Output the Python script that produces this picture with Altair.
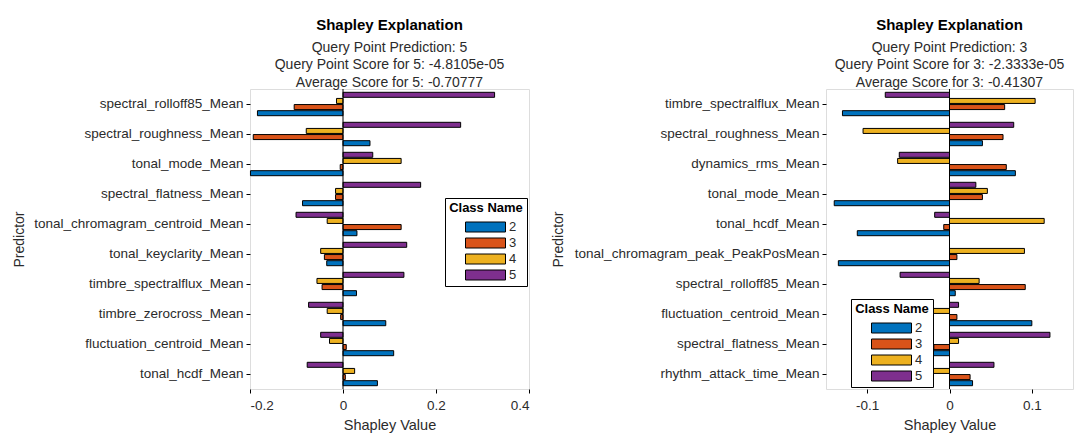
import altair as alt
import pandas as pd

classes = ["2", "3", "4", "5"]
class_colors = ["#0072BD", "#D95319", "#EDB120", "#7E2F8E"]

left_predictors = ["spectral_rolloff85_Mean", "spectral_roughness_Mean", "tonal_mode_Mean",
                   "spectral_flatness_Mean", "tonal_chromagram_centroid_Mean", "tonal_keyclarity_Mean",
                   "timbre_spectralflux_Mean", "timbre_zerocross_Mean", "fluctuation_centroid_Mean",
                   "tonal_hcdf_Mean"]
left_c2 = [-0.184, 0.058, -0.199, -0.087, 0.030, -0.035, 0.029, 0.092, 0.109, 0.074]
left_c3 = [-0.105, -0.193, -0.006, -0.016, 0.125, -0.040, -0.045, -0.005, 0.007, 0.005]
left_c4 = [-0.014, -0.079, 0.125, -0.016, -0.034, -0.048, -0.056, -0.034, -0.029, 0.025]
left_c5 = [0.326, 0.253, 0.064, 0.167, -0.101, 0.137, 0.131, -0.074, -0.048, -0.077]
left_subtitle = ["Query Point Prediction: 5", "Query Point Score for 5: -4.8105e-05",
                 "Average Score for 5: -0.70777"]
left_ticks = [-0.2, 0, 0.2, 0.4]

right_predictors = ["timbre_spectralflux_Mean", "spectral_roughness_Mean", "dynamics_rms_Mean",
                    "tonal_mode_Mean", "tonal_hcdf_Mean", "tonal_chromagram_peak_PeakPosMean",
                    "spectral_rolloff85_Mean", "fluctuation_centroid_Mean", "spectral_flatness_Mean",
                    "rhythm_attack_time_Mean"]
right_c2 = [-0.130, 0.040, 0.080, -0.140, -0.112, -0.135, 0.007, 0.100, -0.030, 0.028]
right_c3 = [0.067, 0.065, 0.069, 0.040, -0.007, 0.009, 0.092, 0.009, -0.019, 0.025]
right_c4 = [0.104, -0.105, -0.063, 0.046, 0.115, 0.091, 0.036, -0.040, 0.011, -0.035]
right_c5 = [-0.078, 0.078, -0.061, 0.032, -0.018, 0.0, -0.060, 0.011, 0.122, 0.054]
right_subtitle = ["Query Point Prediction: 3", "Query Point Score for 3: -2.3333e-05",
                  "Average Score for 3: -0.41307"]
right_ticks = [-0.1, 0, 0.1]

FONT = "Liberation Sans"
TXT = "#2b2b2b"
RECT = "M-1,-0.25L1,-0.25L1,0.25L-1,0.25Z"


def build_df(preds, series):
    rows = []
    for cls, vals in zip(classes, series):
        for p, v in zip(preds, vals):
            rows.append({"Predictor": p, "Class": cls, "Value": v})
    return pd.DataFrame(rows)


def panel(preds, series, subtitle, ticks, domain, width, lx, ly, title_x):
    df = build_df(preds, series)
    bars = alt.Chart(df).mark_bar(stroke="black", strokeWidth=1, opacity=1).encode(
        y=alt.Y("Predictor:N", sort=preds,
                scale=alt.Scale(paddingInner=0.22, paddingOuter=0.11),
                axis=alt.Axis(title="Predictor", labelFontSize=13.5, titleFontSize=14,
                              titleFontWeight="normal", labelColor=TXT, titleColor=TXT,
                              tickColor="black", domain=False, tickSize=4, labelPadding=3,
                              labelLimit=400, labelFont=FONT, titleFont=FONT,
                              titleX=title_x, titleY=150, titleBaseline="middle", titleAngle=270)),
        yOffset=alt.YOffset("Class:N", sort=["5", "4", "3", "2"],
                            scale=alt.Scale(paddingInner=0.18)),
        x=alt.X("Value:Q", scale=alt.Scale(domain=domain, nice=False, zero=False),
                axis=alt.Axis(title="Shapley Value", values=ticks, labelExpr="'' + datum.value",
                              grid=False, domain=False, tickSize=4, tickColor="black",
                              labelFontSize=13.5, titleFontSize=14.5, titleFontWeight="normal",
                              labelColor=TXT, titleColor=TXT, labelPadding=5, titlePadding=7,
                              labelFont=FONT, titleFont=FONT)),
        color=alt.Color("Class:N", scale=alt.Scale(domain=classes, range=class_colors),
                        legend=alt.Legend(title="Class Name", orient="none", legendX=lx, legendY=ly,
                                          direction="vertical", strokeColor="black", fillColor="white",
                                          padding=4, titleFontSize=13, titleFont=FONT, titleColor="black",
                                          titleFontWeight="bold", labelFontSize=13, labelFont=FONT,
                                          labelColor=TXT, symbolType=RECT, symbolSize=1600,
                                          clipHeight=14, symbolOffset=9,
                                          symbolStrokeColor="black", symbolStrokeWidth=1,
                                          symbolOpacity=1, rowPadding=2, titlePadding=5,
                                          titleAnchor="middle", labelOffset=3)),
    )
    zero = alt.Chart(pd.DataFrame({"z": [0]})).mark_rule(color="black", strokeWidth=1).encode(x="z:Q")
    return alt.layer(bars, zero).properties(
        width=width, height=300,
        title=alt.TitleParams(text="Shapley Explanation", subtitle=subtitle, fontSize=15,
                              fontWeight="bold", subtitleFontSize=14, anchor="middle",
                              color="black", subtitleColor=TXT, font=FONT, subtitleFont=FONT,
                              offset=-1, subtitlePadding=8, subtitleLineHeight=17.5, frame="group"),
    )


left = panel(left_predictors, [left_c2, left_c3, left_c4, left_c5], left_subtitle,
             left_ticks, [-0.2, 0.4], 279, 195, 109, -231)
right = panel(right_predictors, [right_c2, right_c3, right_c4, right_c5], right_subtitle,
              right_ticks, [-0.15, 0.15], 247, 25, 210, -268)

chart = alt.hconcat(left, right, spacing=20).resolve_legend(color="independent").resolve_scale(
    y="independent").configure_view(stroke="black", strokeWidth=1).configure(
    background="white").properties(padding={"left": 3, "top": 9, "right": 5, "bottom": 5})

chart.save("out.html", embed_options={"renderer": "svg", "actions": False})
